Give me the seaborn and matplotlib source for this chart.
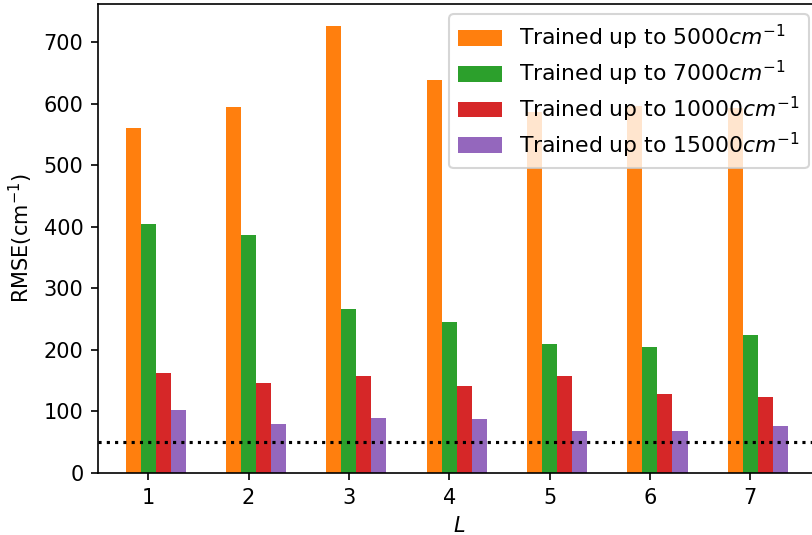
import numpy as np
import pandas as pd
import matplotlib
matplotlib.use('Agg')
import matplotlib.pyplot as plt
import seaborn as sns

L = np.array([1, 2, 3, 4, 5, 6, 7])
rmse_5000 = [560, 594, 727, 639, 586, 596, 593]
rmse_7000 = [405, 386, 267, 246, 209, 205, 225]
rmse_10000 = [163, 147, 157, 142, 157, 128, 123]
rmse_15000 = [103, 79, 89, 87, 69, 69, 77]
labels = [r'Trained up to 5000$cm^{-1}$', r'Trained up to 7000$cm^{-1}$',
          r'Trained up to 10000$cm^{-1}$', r'Trained up to 15000$cm^{-1}$']
target = 50

colors = ['#ff7f0e', '#2ca02c', '#d62728', '#9467bd']
series = [rmse_5000, rmse_7000, rmse_10000, rmse_15000]
w = 0.15

fig = plt.figure(figsize=(812 / 150, 535 / 150), dpi=150)
ax = fig.add_axes([98 / 812, 62 / 535, (819.5 - 98) / 812, (473 - 3.5) / 535])

for i, (vals, lab, c) in enumerate(zip(series, labels, colors)):
    df = pd.DataFrame({'L': L + (i - 1) * w, 'rmse': vals})
    sns.barplot(data=df, x='L', y='rmse', native_scale=True, width=w,
                color=c, saturation=1, label=lab, ax=ax, linewidth=0)

ax.axhline(target, color='black', linestyle=':', linewidth=1.5)

ax.set_xlim(0.5, 7.69)
ax.set_ylim(0, 763)
ax.set_xticks(L)
ax.set_xticklabels([str(v) for v in L])
ax.set_yticks(range(0, 800, 100))
ax.set_xlabel('$L$')
ax.set_ylabel('RMSE(cm$^{-1}$)')
ax.legend(loc='upper right', fontsize=10.5, labelspacing=0.3, handleheight=0.73)

fig.savefig('out.png', dpi=150)
